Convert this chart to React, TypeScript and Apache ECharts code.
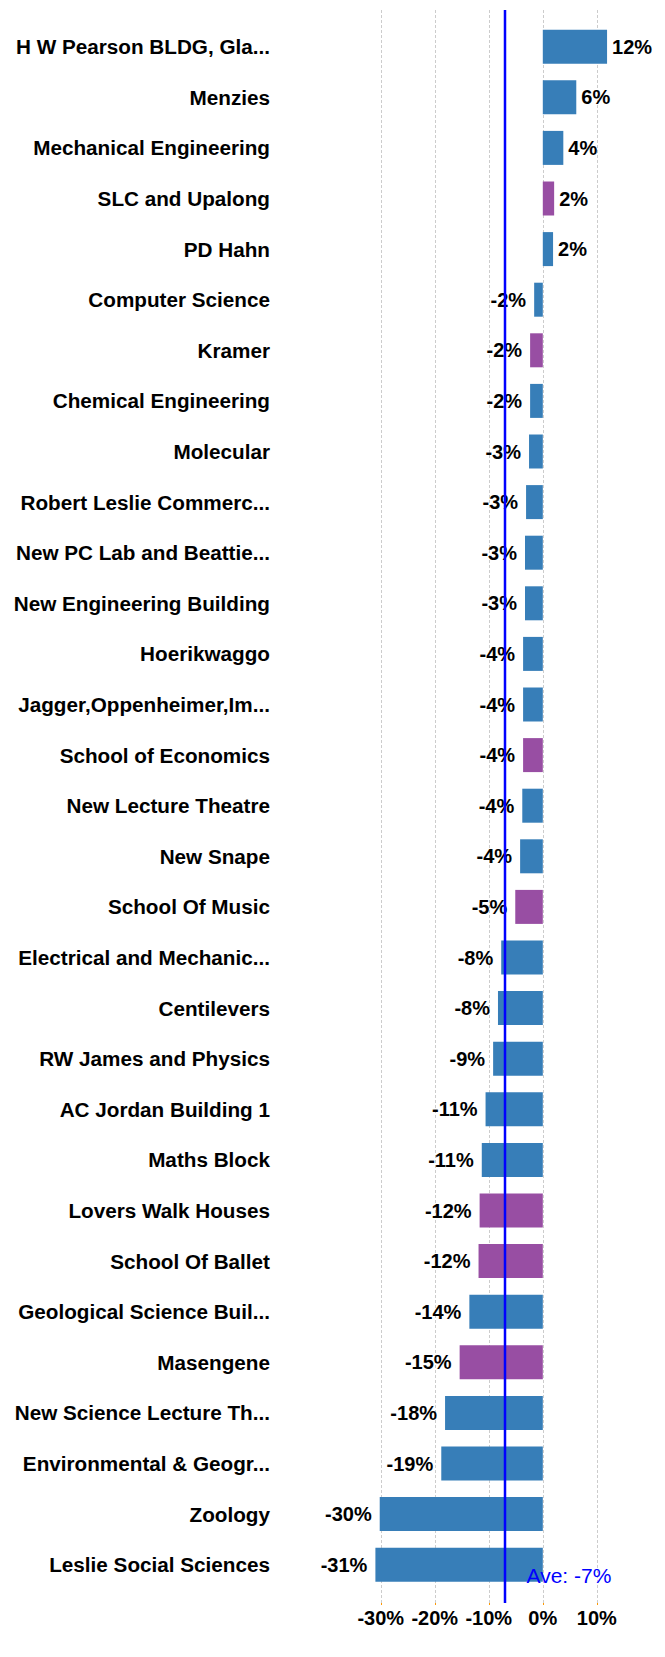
import React, { useEffect, useRef } from "react";
import * as echarts from "echarts";

const CATEGORIES = [
  "H W Pearson BLDG, Gla...",
  "Menzies",
  "Mechanical Engineering",
  "SLC and Upalong",
  "PD Hahn",
  "Computer Science",
  "Kramer",
  "Chemical Engineering",
  "Molecular",
  "Robert Leslie Commerc...",
  "New PC Lab and Beattie...",
  "New Engineering Building",
  "Hoerikwaggo",
  "Jagger,Oppenheimer,Im...",
  "School of Economics",
  "New Lecture Theatre",
  "New Snape",
  "School Of Music",
  "Electrical and Mechanic...",
  "Centilevers",
  "RW James and Physics",
  "AC Jordan Building 1",
  "Maths Block",
  "Lovers Walk Houses",
  "School Of Ballet",
  "Geological Science Buil...",
  "Masengene",
  "New Science Lecture Th...",
  "Environmental & Geogr...",
  "Zoology",
  "Leslie Social Sciences",
];

// change as a fraction
const VALUES = [
  0.119, 0.062, 0.038, 0.021, 0.019, -0.016, -0.0235, -0.0235, -0.0255, -0.031,
  -0.033, -0.033, -0.0365, -0.0365, -0.0365, -0.038, -0.042, -0.051, -0.077,
  -0.083, -0.092, -0.106, -0.113, -0.117, -0.119, -0.136, -0.154, -0.181,
  -0.188, -0.302, -0.31,
];

// residences are drawn purple
const RESIDENCE = [
  false, false, false, true, false, false, true, false, false, false, false,
  false, false, false, true, false, false, true, false, false, false, false,
  false, true, true, false, true, false, false, false, false,
];

const AVERAGE = -0.07;
const AVERAGE_LABEL = "Ave: -7%";
const X_TICKS = [-0.3, -0.2, -0.1, 0, 0.1];
const X_MIN = -0.32;
const X_MAX = 0.13;

const BLUE = "#377eb8";
const PURPLE = "#984ea3";
const FONT = "'Liberation Sans', Arial, Helvetica, sans-serif";

const pct = (v: number) => Math.round(v * 100) + "%";

export default function App() {
  const ref = useRef<HTMLDivElement>(null);

  useEffect(() => {
    if (!ref.current) return;
    const chart = echarts.init(ref.current, null, { renderer: "svg" });
    chart.setOption({
      animation: false,
      textStyle: { fontFamily: FONT },
      grid: [
        { left: 370, right: 52, top: 21.4, height: 1568.6 },
        { left: 370, right: 52, top: 10, height: 1593 },
      ],
      xAxis: [
        { type: "value", gridIndex: 0, min: X_MIN, max: X_MAX, show: false },
        {
          type: "value",
          gridIndex: 1,
          min: X_MIN,
          max: X_MAX,
          axisLine: { show: false },
          axisTick: {
            show: true,
            length: 2,
            customValues: X_TICKS,
            lineStyle: { color: "#ff9900" },
          },
          axisLabel: {
            customValues: X_TICKS,
            formatter: (v: number) => pct(v),
            fontSize: 20,
            fontWeight: "bold",
            color: "#000",
            margin: 5,
            fontFamily: FONT,
          },
          splitLine: {
            show: true,
            lineStyle: { color: "#cccccc", type: [3, 2], width: 1 },
          },
        },
      ],
      yAxis: [
        {
          type: "category",
          gridIndex: 0,
          data: CATEGORIES,
          inverse: true,
          axisLine: { show: false },
          axisTick: { show: false },
          splitLine: { show: false },
          axisLabel: {
            margin: 100,
            fontSize: 20.7,
            fontWeight: "bold",
            color: "#000",
            fontFamily: FONT,
          },
        },
        { type: "value", gridIndex: 1, min: 0, max: 1, show: false },
      ],
      series: [
        {
          type: "bar",
          xAxisIndex: 0,
          yAxisIndex: 0,
          barWidth: 34,
          data: VALUES.map((v, i) => ({
            value: v,
            itemStyle: { color: RESIDENCE[i] ? PURPLE : BLUE },
            label: {
              position: v < 0 ? "left" : "right",
              distance: v < 0 ? 8 : 5,
            },
          })),
          label: {
            show: true,
            formatter: (p: any) => pct(p.value),
            fontSize: 20,
            fontWeight: "bold",
            color: "#000",
            fontFamily: FONT,
          },
        },
        {
          type: "line",
          xAxisIndex: 1,
          yAxisIndex: 1,
          z: 5,
          silent: true,
          symbol: "circle",
          symbolSize: 1,
          itemStyle: { color: "rgba(0,0,0,0)" },
          lineStyle: { color: "#0000ff", width: 2.5 },
          data: [
            { value: [AVERAGE, 1] },
            {
              value: [AVERAGE, 0],
              label: {
                show: true,
                formatter: AVERAGE_LABEL,
                position: "right",
                offset: [16, -28],
                color: "#0000ff",
                fontSize: 21,
                fontFamily: FONT,
              },
            },
          ],
        },
      ],
    });
    return () => chart.dispose();
  }, []);

  return (
    <div
      ref={ref}
      style={{ position: "absolute", left: 0, top: 0, width: 665, height: 1657 }}
    />
  );
}
